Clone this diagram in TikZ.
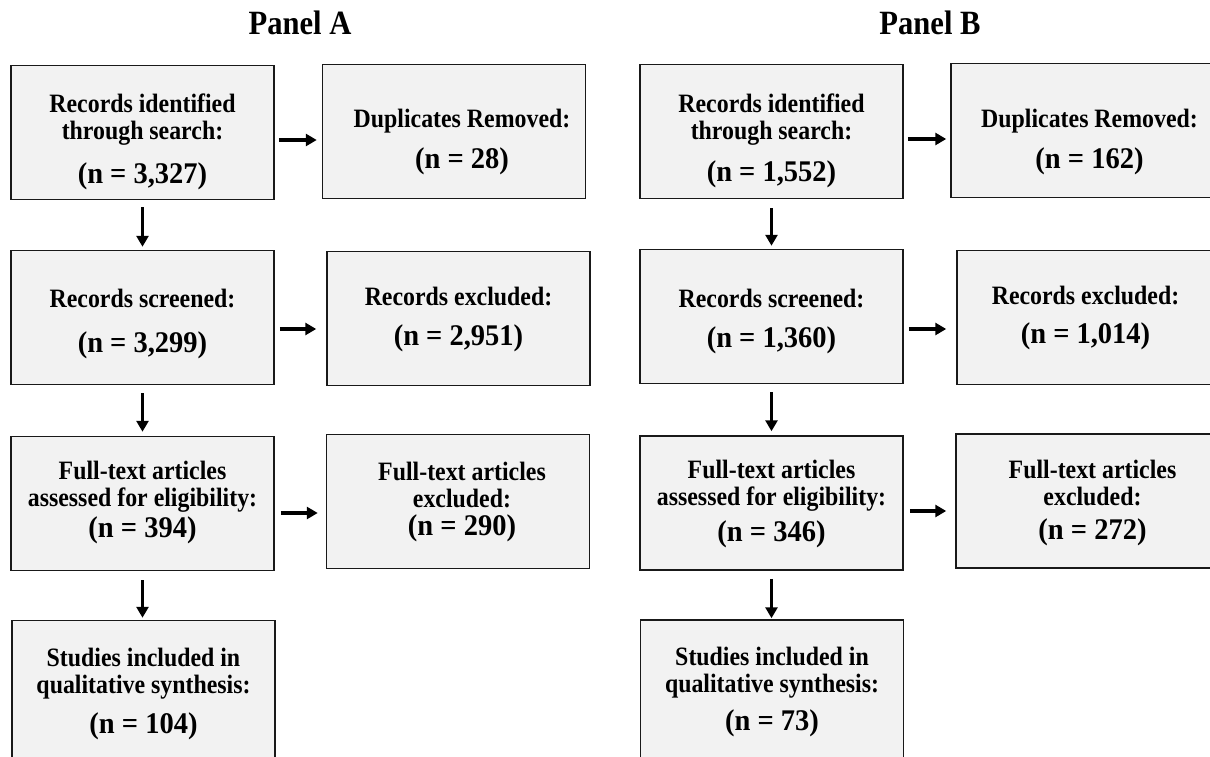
\documentclass[tikz,border=0pt]{standalone}
\usepackage{fontspec}
\setmainfont{Liberation Serif}[FakeStretch=0.9]
\newfontfamily\numfont{Liberation Serif}[FakeStretch=0.95]
\usetikzlibrary{arrows.meta,positioning}
\definecolor{boxgray}{HTML}{F2F2F2}
\newcommand{\nval}[1]{{\numfont\bfseries\fontsize{30}{27}\selectfont #1}}

\begin{document}
\begin{tikzpicture}[
			x=1pt, y=-1pt, % pixel-like coordinates
			box/.style={rectangle, draw=black!90, fill=boxgray, line width=1.5pt, inner sep=0pt, minimum width=263pt, minimum height=134pt},
			tall/.style={minimum height=150pt},
			txt/.style={align=center, font=\bfseries\fontsize{26.5}{27}\selectfont},
			ttl/.style={font=\bfseries\fontsize{34}{34}\selectfont, anchor=base},
			flow/.style={line width=3.5pt, -{Triangle[length=11pt,width=12pt]}}]
		\useasboundingbox (0,0) rectangle (1210,757);
		\path 	(300,35) 	node 	(ta) [ttl] {Panel A}
		        (930,35) 	node 	(tb) [ttl] {Panel B};
		% panel A
		\path 	(142.5,132.5) 	node 	(a1) [box, label={[txt,yshift=-9pt]center:{Records identified\\through search:\\[17pt]\nval{(n = 3,327)}}}] {}
		        (454,131.5) 	node 	(a2) [box, label={[txt,xshift=8pt,yshift=-10pt]center:{Duplicates Removed:\\[14pt]\nval{(n = 28)}}}] {}
		        (142.5,317.5) 	node 	(a3) [box, label={[txt,yshift=-6pt]center:{Records screened:\\[18pt]\nval{(n = 3,299)}}}] {}
		        (458.5,318.5) 	node 	(a4) [box, label={[txt,yshift=-1pt]center:{Records excluded:\\[13pt]\nval{(n = 2,951)}}}] {}
		        (142.5,503.5) 	node 	(a5) [box, label={[txt,yshift=1pt]center:{Full-text articles\\assessed for eligibility:\\[4pt]\nval{(n = 394)}}}] {}
		        (458,501.5) 	node 	(a6) [box, label={[txt,xshift=4pt]center:{Full-text articles\\excluded:\\[1pt]\nval{(n = 290)}}}] {}
		        (143.5,695.5) 	node 	(a7) [box, tall, label={[txt,yshift=2pt]center:{Studies included in\\qualitative synthesis:\\[13pt]\nval{(n = 104)}}}] {};
		% panel B
		\path 	(771.5,131.5) 	node 	(b1) [box, label={[txt,yshift=-9pt]center:{Records identified\\through search:\\[15pt]\nval{(n = 1,552)}}}] {}
		        (1082.5,130.5) 	node 	(b2) [box, label={[txt,xshift=7pt,yshift=-11pt]center:{Duplicates Removed:\\[14pt]\nval{(n = 162)}}}] {}
		        (771.5,316.5) 	node 	(b3) [box, label={[txt,yshift=-5pt]center:{Records screened:\\[13pt]\nval{(n = 1,360)}}}] {}
		        (1088.5,317.5) 	node 	(b4) [box, label={[txt,xshift=-3pt]center:{Records excluded:\\[12pt]\nval{(n = 1,014)}}}] {}
		        (771.5,503) 	node 	(b5) [box, label={[txt,yshift=-1pt]center:{Full-text articles\\assessed for eligibility:\\[9pt]\nval{(n = 346)}}}] {}
		        (1087.5,501) 	node 	(b6) [box, label={[txt,xshift=5pt,yshift=-2pt]center:{Full-text articles\\excluded:\\[7pt]\nval{(n = 272)}}}] {}
		        (772,695) 	node 	(b7) [box, tall, label={[txt,yshift=3pt]center:{Studies included in\\qualitative synthesis:\\[11pt]\nval{(n = 73)}}}] {};
		\draw [flow, shorten <=7pt, shorten >=3pt] (a1) -- (a1 |- a3.north);
		\draw [flow, shorten <=8pt, shorten >=4pt] (a3) -- (a3 |- a5.north);
		\draw [flow, shorten <=9pt, shorten >=2pt] (a5) -- (a5 |- a7.north);
		\draw [flow, shorten <=4pt, shorten >=5pt] ([yshift=-7.5pt]a1.east) -- ([yshift=-7.5pt]a1.east -| a2.west);
		\draw [flow, shorten <=5pt, shorten >=10pt] ([yshift=-11.5pt]a3.east) -- ([yshift=-11.5pt]a3.east -| a4.west);
		\draw [flow, shorten <=6pt, shorten >=8pt] ([yshift=-9.5pt]a5.east) -- ([yshift=-9.5pt]a5.east -| a6.west);
		\draw [flow, shorten <=9pt, shorten >=3pt] (b1) -- (b1 |- b3.north);
		\draw [flow, shorten <=8pt, shorten >=4pt] (b3) -- (b3 |- b5.north);
		\draw [flow, shorten <=8pt, shorten >=1pt] (b5) -- (b5 |- b7.north);
		\draw [flow, shorten <=4pt, shorten >=4pt] ([yshift=-7.5pt]b1.east) -- ([yshift=-7.5pt]b1.east -| b2.west);
		\draw [flow, shorten <=5pt, shorten >=10pt] ([yshift=-12.5pt]b3.east) -- ([yshift=-12.5pt]b3.east -| b4.west);
		\draw [flow, shorten <=6pt, shorten >=9pt] ([yshift=-8pt]b5.east) -- ([yshift=-8pt]b5.east -| b6.west);
	\end{tikzpicture}
\end{document}
